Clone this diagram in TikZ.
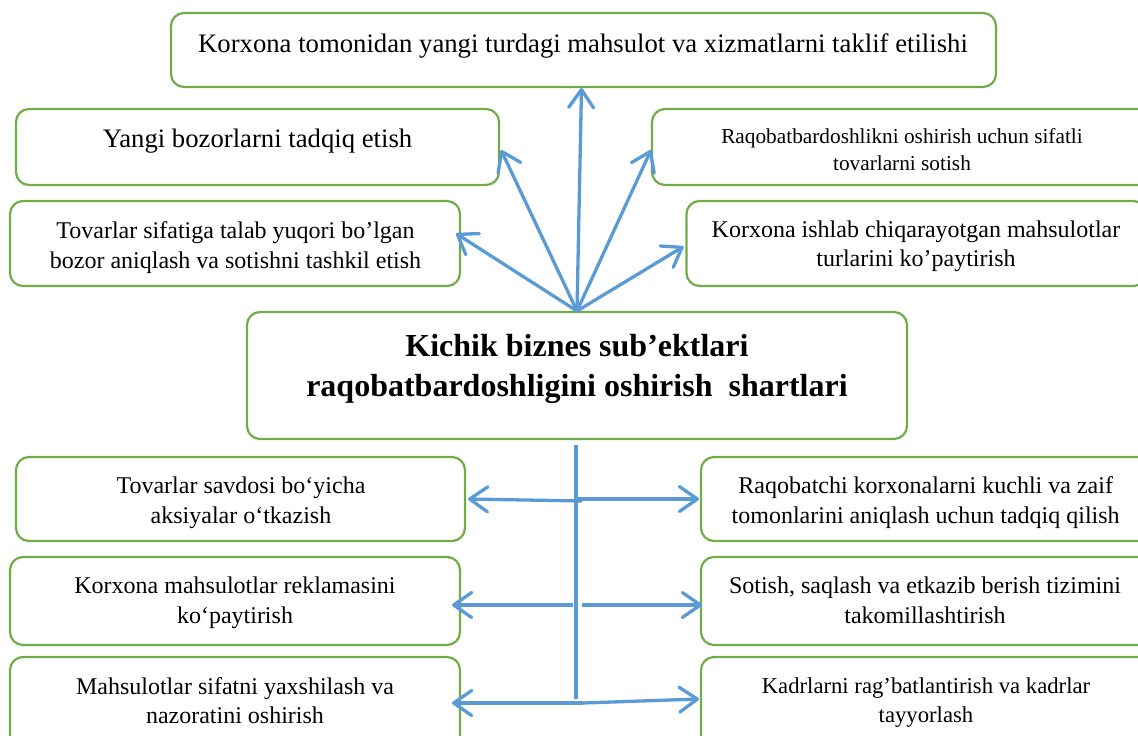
\documentclass[tikz,border=0pt]{standalone}
\usepackage{fontspec}
\setmainfont{Liberation Serif}
\usetikzlibrary{arrows.meta,calc}
\definecolor{boxgreen}{HTML}{70AD47}
\definecolor{arrblue}{HTML}{5B9BD5}
\begin{document}
\begin{tikzpicture}[x=1pt,y=-1pt,
  box/.style={draw=boxgreen,line width=2.2pt,rounded corners=13pt,inner sep=0pt,outer sep=0pt,anchor=north west},
  txt/.style={align=center,inner sep=0pt,anchor=base},
  arr/.style={draw=arrblue,line width=3.3pt,-{Straight Barb[length=18pt,width=25pt,round]}},
  stem/.style={draw=arrblue,line width=3.3pt},
  fbig/.style={font=\fontsize{26.7}{32}\selectfont},
  fmid/.style={font=\fontsize{24}{30}\selectfont},
  fmidb/.style={font=\fontsize{24}{29}\selectfont},
  fsmall/.style={font=\fontsize{21.3}{26.5}\selectfont},
  fkad/.style={font=\fontsize{22.7}{29}\selectfont},
  fhead/.style={font=\bfseries\fontsize{32}{40}\selectfont}
]
\useasboundingbox (0,0) rectangle (1138,736);
\clip (0,0) rectangle (1138,736);

% boxes
\node[box,minimum width=825pt,minimum height=74pt] (top) at (171,13) {};
\node[box,minimum width=483pt,minimum height=76pt] (yangi) at (16,109) {};
\node[box,minimum width=500pt,minimum height=76pt] (raq) at (652,109) {};
\node[box,minimum width=450pt,minimum height=85pt] (tovs) at (10,201) {};
\node[box,minimum width=460pt,minimum height=85pt] (kori) at (686.5,201) {};
\node[box,minimum width=660pt,minimum height=127pt] (c) at (247,312) {};
\node[box,minimum width=449pt,minimum height=84pt] (tsav) at (16,457) {};
\node[box,minimum width=450pt,minimum height=88pt] (kmah) at (10,557) {};
\node[box,minimum width=450pt,minimum height=100pt] (msif) at (10,657) {};
\node[box,minimum width=450pt,minimum height=84pt] (rk) at (701,457) {};
\node[box,minimum width=450pt,minimum height=88pt] (sot) at (701,557) {};
\node[box,minimum width=450pt,minimum height=100pt] (kad) at (701,657) {};

% texts (anchor=base is the baseline of the last line)
\node[txt,fbig] (ttop) at (583,52) {Korxona tomonidan yangi turdagi mahsulot va xizmatlarni taklif etilishi};
\node[txt,fbig] (tyangi) at (257.5,147) {Yangi bozorlarni tadqiq etish};
\node[txt,fsmall] (traq) at (902,170) {Raqobatbardoshlikni oshirish uchun sifatli\\tovarlarni sotish};
\node[txt,fmid] (ttovs) at (235.5,268) {Tovarlar sifatiga talab yuqori bo’lgan\\bozor aniqlash va sotishni tashkil etish};
\node[txt,fmidb] (tkori) at (916,266.7) {Korxona ishlab chiqarayotgan mahsulotlar\\turlarini ko’paytirish};
\node[txt,fhead] (tc) at (577,396.7) {Kichik biznes sub’ektlari\\raqobatbardoshligini oshirish\ \ shartlari};
\node[txt,fmid] (ttsav) at (241,523) {Tovarlar savdosi bo‘yicha\\aksiyalar o‘tkazish};
\node[txt,fmid] (tkmah) at (235,623) {Korxona mahsulotlar reklamasini\\ko‘paytirish};
\node[txt,fmidb] (tmsif) at (235,723) {Mahsulotlar sifatni yaxshilash va\\nazoratini oshirish};
\node[txt,fmid] (trk) at (925.7,523) {Raqobatchi korxonalarni kuchli va zaif\\tomonlarini aniqlash uchun tadqiq qilish};
\node[txt,fmid] (tsot) at (925,623) {Sotish, saqlash va etkazib berish tizimini\\takomillashtirish};
\node[txt,fkad] (tkad) at (926,722) {Kadrlarni rag’batlantirish va kadrlar\\tayyorlash};

% upper arrows
\coordinate (o) at ($(c.north)+(0,-1)$);
\draw[arr] (o) -- ($(top.south)+(-2,1)$);
\draw[arr] (o) -- ($(yangi.east)+(2,3)$);
\draw[arr] (o) -- ($(raq.west)+(-1,3)$);
\draw[arr] (o) -- ($(tovs.east)+(-4,-10)$);
\draw[arr] (o) -- ($(kori.west)+(-3,3)$);

% lower structure
\coordinate (v1) at ($(c.south)+(-1,6)$);
\coordinate (v2) at ($(c.south)+(-1,260)$);
\draw[stem] (v1) -- (v2);
\coordinate (j1l) at ($(v1)+(6,56)$);
\coordinate (j1r) at ($(v1)+(0,54)$);
\coordinate (j2l) at ($(v1)+(-3,160)$);
\coordinate (j2r) at ($(v1)+(6,160)$);
\coordinate (j3) at ($(v1)+(7,258)$);
\draw[arr] (j1l) -- ($(tsav.east)+(3,0)$);
\draw[arr] (j1r) -- ($(rk.west)+(-2,0)$);
\draw[arr] (j2l) -- ($(kmah.east)+(-8,4)$);
\draw[arr] (j2r) -- ($(sot.west)+(1,4)$);
\draw[arr] (j3) -- ($(msif.north east)+(-8,46)$);
\draw[arr] (j3) -- ($(kad.north west)+(-2,42)$);
\end{tikzpicture}
\end{document}
